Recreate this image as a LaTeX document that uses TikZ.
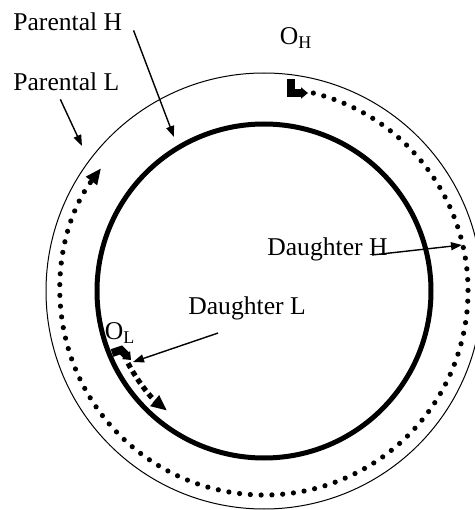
\documentclass[tikz,border=0pt]{standalone}
\usepackage{fontspec}
\setmainfont{Liberation Serif}
\usepackage{tikz}
\usetikzlibrary{positioning,arrows.meta,calc}
\tikzset{
  strand-parent/.style={draw=black,line width=0.5pt},
  strand-daughter/.style={draw=black,line width=2.5pt},
  synth-h/.style={line width=2.6pt,line cap=round,dash pattern=on 0pt off 5.4pt,
    -{Triangle[length=8pt,width=6.5pt]}},
  synth-l/.style={line width=2.6pt,dash pattern=on 2.6pt off 2pt,
    -{Triangle[length=8pt,width=6.5pt]}},
  ori-mark/.style={line width=4pt,-{Triangle[length=3.5pt,width=5.5pt]}},
  lbl/.style={inner sep=0pt,font=\fontsize{12.8}{15}\selectfont},
  arrow/.style={-{Triangle[length=5.5pt,width=4pt]},line width=0.7pt},
}
\begin{document}
\begin{tikzpicture}[x=0.5pt,y=0.5pt]
  \useasboundingbox (0,0) rectangle (475,510);
  \coordinate (c) at (264,219);

  % strands
  \draw[strand-parent] (c) circle[radius=218];
  \draw[strand-daughter] (c) circle[radius=167];

  % heavy strand synthesis from O_H, light strand from O_L
  \draw[synth-h] ([shift={(76:204)}]c) arc[start angle=76,end angle=-217,radius=204];
  \draw[synth-l] ([shift={(208:154)}]c) arc[start angle=208,end angle=231,radius=154];
  \draw[ori-mark] (291,431) -- (291,417) -- (308,417);
  \draw[ori-mark] (112,157) -- (121,160) -- (131,150);

  % labels
  \node[lbl,anchor=west] (par-h) at (13,488) {Parental H};
  \node[lbl,anchor=west] (par-l) at (13,428) {Parental L};
  \node[lbl] (o-h) at (296,472) {O\textsubscript{H}};
  \node[lbl] (o-l) at (120,177) {O\textsubscript{L}};
  \node[lbl,anchor=west] (dau-l) at (188,202) {Daughter L};
  \node[lbl,anchor=west] (dau-h) at (267,261) {Daughter H};

  \coordinate (ph-tip) at (174,373);
  \coordinate (pl-tip) at (82,364);
  \coordinate (dh-tail) at (372,255);
  \coordinate (dh-tip) at (462,265);
  \coordinate (dl-tip) at (133,148);
  \draw[arrow] ([xshift=5.5pt,yshift=0.5pt]par-h.south east) -- (ph-tip);
  \draw[arrow] ([xshift=-3pt,yshift=-4pt]par-l.south) -- (pl-tip);
  \draw[arrow] (dh-tail) -- (dh-tip);
  \draw[arrow] ([xshift=-14.5pt,yshift=-6.5pt]dau-l.south) -- (dl-tip);
\end{tikzpicture}
\end{document}
